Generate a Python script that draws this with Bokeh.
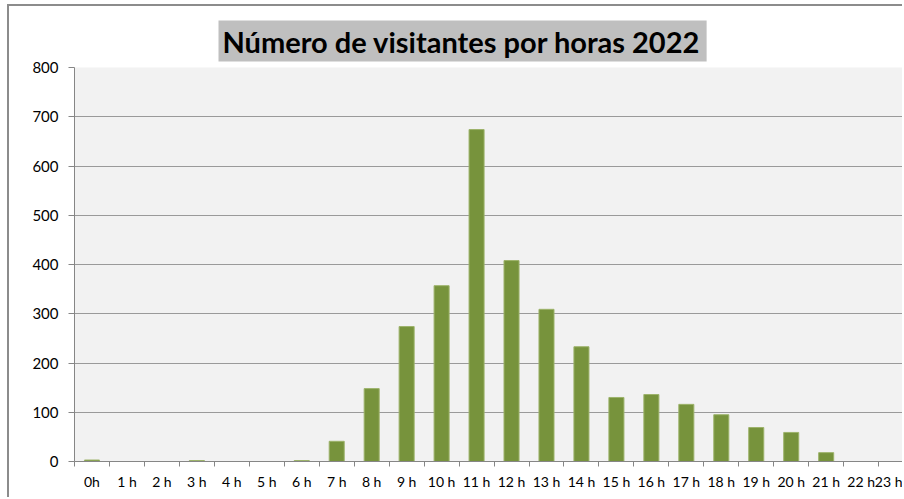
from bokeh.plotting import figure
from bokeh.models import Range1d, FixedTicker, Title, ColumnDataSource
from bokeh.embed import file_html
from bokeh.resources import INLINE

hours = [f"{h} h" if h != 0 else "0h" for h in range(24)]
visitors = [3, 0, 0, 2, 0, 0, 2, 41, 148, 274, 357, 674, 408, 309, 233, 130, 136, 116, 95, 69, 59, 18, 0, 0]
y_ticks = [0, 100, 200, 300, 400, 500, 600, 700, 800]
title_text = "Número de visitantes por horas 2022"

src = ColumnDataSource(dict(x=list(range(len(hours))), top=visitors))

p = figure(width=895, height=493, output_backend="svg", toolbar_location=None,
           x_range=Range1d(-0.5, 23.24), y_range=Range1d(0, 800),
           min_border_left=65, min_border_top=61, min_border_bottom=38, min_border_right=0)
p.styles = {"margin-left": "7px", "margin-top": "4px",
            "border-left": "2px solid #8c8c8c", "border-top": "2px solid #8c8c8c"}

p.background_fill_color = "#f2f2f2"
p.border_fill_color = "white"
p.outline_line_color = None

p.vbar(x="x", top="top", width=0.43, source=src, fill_color="#77933c", line_color="#9db36b", line_width=1)

p.xaxis.ticker = FixedTicker(ticks=list(range(24)), minor_ticks=[i - 0.5 for i in range(25)])
p.xaxis.major_label_overrides = {i: hours[i] for i in range(24)}
p.xaxis.major_tick_line_color = None
p.xaxis.major_tick_out = 5
p.xaxis.major_tick_in = 0
p.xaxis.minor_tick_out = 5
p.xaxis.minor_tick_in = 0
p.xaxis.minor_tick_line_color = "#868686"
p.xaxis.axis_line_color = "#868686"
p.xaxis.major_label_text_font = "Lato"
p.xaxis.major_label_text_font_size = "14px"
p.xaxis.major_label_text_color = "#000000"
p.xaxis.major_label_standoff = 6

p.yaxis.ticker = FixedTicker(ticks=y_ticks)
p.yaxis.minor_tick_line_color = None
p.yaxis.major_tick_out = 6
p.yaxis.major_tick_in = 0
p.yaxis.major_tick_line_color = "#868686"
p.yaxis.axis_line_color = "#868686"
p.yaxis.major_label_text_font = "Lato"
p.yaxis.major_label_text_font_size = "15px"
p.yaxis.major_label_text_color = "#000000"
p.yaxis.major_label_standoff = 10

p.xgrid.grid_line_color = None
p.ygrid.grid_line_color = "#9a9a9a"
p.ygrid.grid_line_width = 1

title = Title(text=title_text, align="left", offset=144, standoff=12,
              text_font="Lato", text_font_style="bold", text_font_size="29px",
              text_color="#000000", background_fill_color="#bfbfbf",
              padding=dict(left=4, right=6, top=3, bottom=3))
p.add_layout(title, "above")

open("out.html", "w").write(file_html(p, INLINE))
